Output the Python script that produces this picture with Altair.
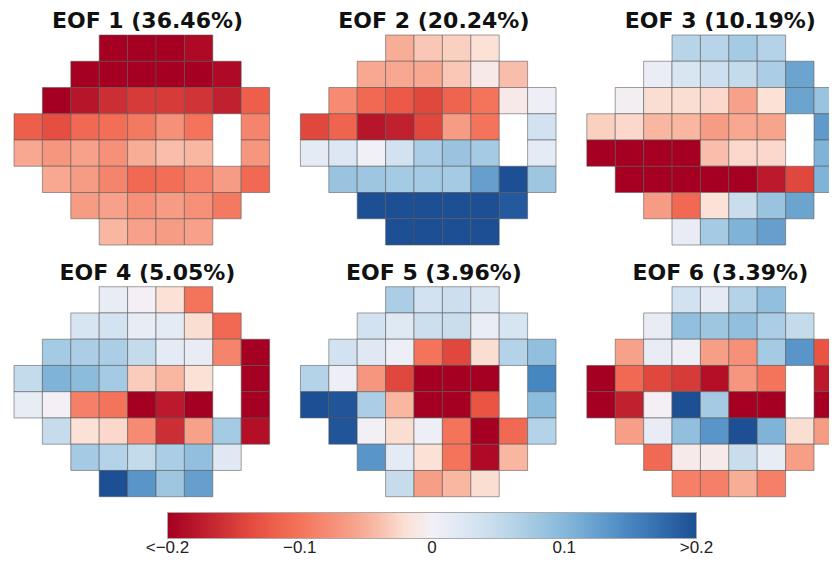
import altair as alt
import pandas as pd

titles = ["EOF 1 (36.46%)", "EOF 2 (20.24%)", "EOF 3 (10.19%)",
          "EOF 4 (5.05%)", "EOF 5 (3.96%)", "EOF 6 (3.39%)"]

# visual-field layout: columns (1..9) present in each of the 8 rows
row_cols = [
    [4, 5, 6, 7],
    [3, 4, 5, 6, 7, 8],
    [2, 3, 4, 5, 6, 7, 8, 9],
    [1, 2, 3, 4, 5, 6, 7, 9],
    [1, 2, 3, 4, 5, 6, 7, 9],
    [2, 3, 4, 5, 6, 7, 8, 9],
    [3, 4, 5, 6, 7, 8],
    [4, 5, 6, 7],
]

eof1 = [-0.20, -0.20, -0.20, -0.19,
        -0.20, -0.20, -0.20, -0.20, -0.20, -0.19,
        -0.20, -0.18, -0.16, -0.15, -0.15, -0.155, -0.17, -0.12,
        -0.12, -0.135, -0.11, -0.105, -0.095, -0.075, -0.10, -0.085,
        -0.055, -0.07, -0.06, -0.075, -0.05, -0.04, -0.045, -0.07,
        -0.055, -0.065, -0.085, -0.11, -0.105, -0.09, -0.065, -0.11,
        -0.065, -0.06, -0.075, -0.065, -0.075, -0.095,
        -0.045, -0.06, -0.065, -0.06]

eof2 = [-0.05, -0.035, -0.03, -0.02,
        -0.055, -0.055, -0.055, -0.035, -0.01, -0.04,
        -0.08, -0.11, -0.125, -0.14, -0.115, -0.10, -0.01, 0.005,
        -0.14, -0.115, -0.18, -0.17, -0.14, -0.065, -0.10, 0.035,
        0.015, 0.025, 0.0, 0.035, 0.07, 0.085, 0.075, 0.015,
        0.085, 0.08, 0.075, 0.075, 0.075, 0.125, 0.20, 0.08,
        0.20, 0.20, 0.20, 0.20, 0.20, 0.19,
        0.20, 0.20, 0.20, 0.20]

eof3 = [0.06, 0.06, 0.075, 0.062,
        0.008, 0.028, 0.04, 0.05, 0.07, 0.12,
        -0.003, -0.022, -0.022, -0.025, -0.06, -0.02, 0.12, 0.085,
        -0.03, -0.025, -0.045, -0.045, -0.065, -0.055, -0.058, 0.13,
        -0.20, -0.20, -0.20, -0.20, -0.04, -0.025, -0.025, 0.105,
        -0.20, -0.20, -0.20, -0.20, -0.20, -0.175, -0.14, 0.105,
        -0.065, -0.11, -0.02, 0.045, 0.085, 0.12,
        0.01, 0.075, 0.105, 0.125]

eof4 = [0.012, -0.002, -0.02, -0.10,
        0.03, 0.033, 0.012, 0.015, -0.022, -0.11,
        0.075, 0.07, 0.07, 0.05, 0.015, 0.01, -0.085, -0.20,
        0.05, 0.105, 0.095, 0.075, -0.032, -0.045, -0.02, -0.20,
        0.012, -0.002, -0.09, -0.10, -0.20, -0.175, -0.20, -0.20,
        0.048, -0.02, -0.025, -0.08, -0.16, -0.06, 0.075, -0.185,
        0.075, 0.062, 0.05, 0.07, 0.09, 0.022,
        0.20, 0.135, 0.08, 0.125]

eof5 = [0.07, 0.035, 0.042, 0.027,
        0.035, 0.022, 0.042, 0.045, 0.008, 0.03,
        0.035, 0.022, 0.006, -0.10, -0.14, -0.022, 0.062, 0.09,
        0.062, 0.006, -0.07, -0.14, -0.20, -0.20, -0.20, 0.15,
        0.20, 0.195, 0.07, -0.045, -0.20, -0.20, -0.13, 0.095,
        0.195, -0.001, -0.022, 0.006, -0.10, -0.20, -0.11, 0.062,
        0.135, 0.015, -0.02, -0.10, -0.19, -0.045,
        0.048, -0.063, -0.045, -0.022]

eof6 = [0.035, 0.015, 0.062, 0.09,
        0.01, 0.09, 0.08, 0.09, 0.07, 0.05,
        -0.06, 0.01, 0.006, -0.063, -0.075, 0.075, 0.135, -0.13,
        -0.20, -0.11, -0.14, -0.15, -0.185, -0.07, -0.10, -0.175,
        -0.20, -0.17, -0.002, 0.20, 0.075, -0.20, -0.20, -0.20,
        -0.063, 0.01, 0.09, 0.135, 0.20, 0.105, -0.022, -0.065,
        -0.11, -0.008, -0.008, 0.045, 0.012, -0.063,
        -0.09, -0.09, -0.05, -0.09]

panels = [eof1, eof2, eof3, eof4, eof5, eof6]

# colour stops (the outer ones a hair past +-0.2 so the end labels are centred)
color_stops = [-0.200001, -0.175, -0.13, -0.1, -0.05, -0.02, 0.0, 0.025, 0.05, 0.1, 0.15, 0.200001]
color_range = ["#a50021", "#bc1a2c", "#ea5543", "#f4735b", "#f8ad96", "#fbe1d6",
               "#f2f0f7", "#dce7f3", "#c4dbec", "#86b8da", "#4686c1", "#1c4f94"]
legend_values = [-0.2, -0.1, 0.0, 0.1, 0.2]

# layout in cell units
PANEL_DX = 10.085
PANEL_DY = 9.589
W, H = 821, 547
CELL_W, CELL_H = 28.4, 26.25
X0 = -6 / CELL_W
X1 = (W - 6) / CELL_W
Y0 = -27 / CELL_H
Y1 = (H - 27) / CELL_H

rows = []
for k, vals in enumerate(panels):
    pc, pr = k % 3, k // 3
    i = 0
    for r, cols in enumerate(row_cols):
        for c in cols:
            x = pc * PANEL_DX + (c - 1)
            y = pr * PANEL_DY + r
            rows.append({"x": x, "x2": x + 1, "y": y, "y2": y + 1, "v": vals[i], "panel": titles[k]})
            i += 1
df = pd.DataFrame(rows)

tdf = pd.DataFrame({
    "t": titles,
    "tx": [(k % 3) * PANEL_DX + 4.5 + 0.2 for k in range(6)],
    "ty": [(k // 3) * PANEL_DY - 0.27 for k in range(6)],
})

xs = alt.Scale(domain=[X0, X1], nice=False, zero=False)
ys = alt.Scale(domain=[Y0, Y1], nice=False, zero=False, reverse=True)

label_expr = ("datum.value <= -0.19 ? '<\u22120.2' : datum.value >= 0.19 ? '>0.2' : "
              "abs(datum.value) < 0.001 ? '0' : replace(format(datum.value, '.1f'), '-', '\u2212')")

cells = alt.Chart(df).mark_rect(
    stroke="#555555", strokeWidth=1, strokeOpacity=0.55, clip=True
).encode(
    x=alt.X("x:Q", scale=xs, axis=None),
    x2="x2:Q",
    y=alt.Y("y:Q", scale=ys, axis=None),
    y2="y2:Q",
    color=alt.Color(
        "v:Q",
        scale=alt.Scale(domain=color_stops, range=color_range, clamp=True, interpolate="rgb"),
        legend=alt.Legend(
            title=None, orient="none", direction="horizontal",
            legendX=159.5, legendY=504.5, padding=0,
            gradientLength=529, gradientThickness=26,
            gradientStrokeColor="#aaaaaa", gradientStrokeWidth=1,
            values=legend_values, labelExpr=label_expr,
            labelFont="Liberation Sans", labelFontSize=17, labelColor="#222222",
            labelOffset=1, labelOverlap=False,
        ),
    ),
)

text = alt.Chart(tdf).mark_text(
    font="DejaVu Sans", fontSize=22, fontWeight="bold", color="#111111",
    align="center", baseline="alphabetic"
).encode(
    x=alt.X("tx:Q", scale=xs, axis=None),
    y=alt.Y("ty:Q", scale=ys, axis=None),
    text="t:N",
)

chart = alt.layer(cells, text).properties(
    width=W, height=H, padding=0,
    autosize=alt.AutoSizeParams(type="none"),
).configure_view(strokeWidth=0)

chart.save("out.html", embed_options={"renderer": "svg", "actions": False})
